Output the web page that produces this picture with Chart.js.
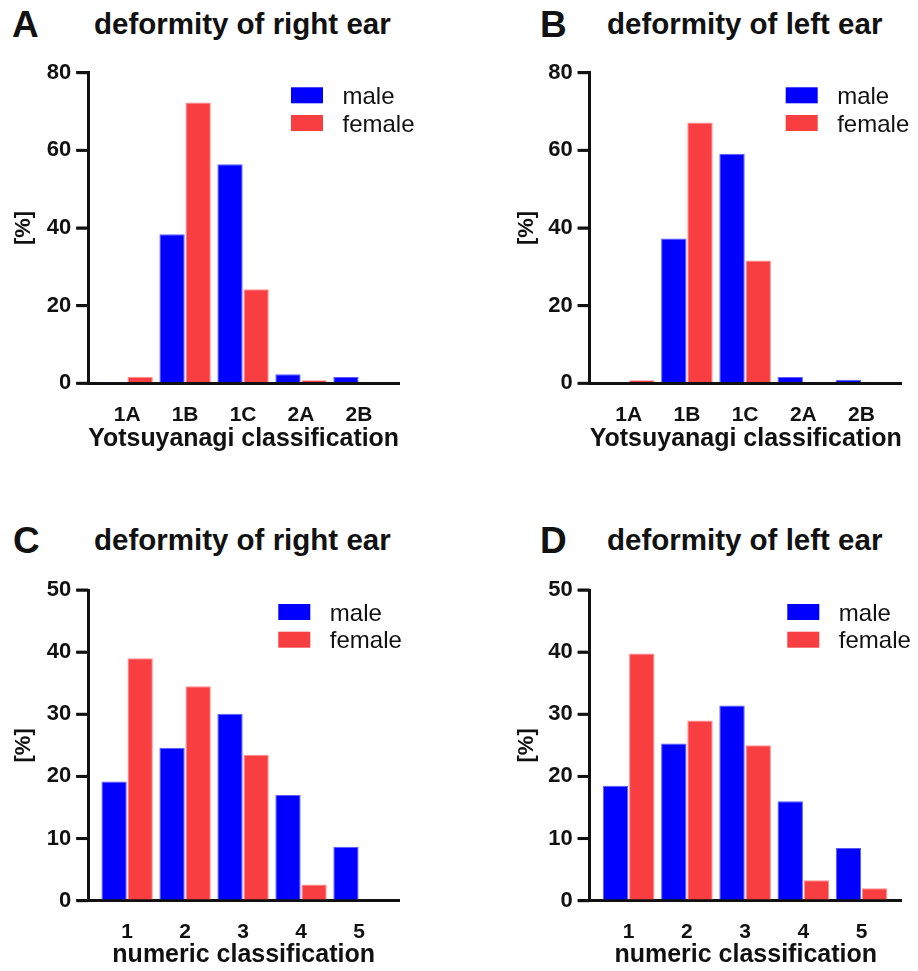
<!DOCTYPE html>
<html>
<head>
<meta charset="utf-8">
<script src="https://cdn.jsdelivr.net/npm/chart.js@4.4.1/dist/chart.umd.min.js"></script>
<style>
body{margin:0;background:#fff;width:918px;height:971px;position:relative;overflow:hidden;font-family:"Liberation Sans",Arial,sans-serif}
canvas{position:absolute}
.lbl{position:absolute;font-weight:bold;line-height:1;color:#111;white-space:nowrap}
.letter{font-size:37px}
.ttl{font-size:29.5px}
</style>
</head>
<body>
<div class="lbl letter" style="left:12px;top:5.5px">A</div>
<div class="lbl ttl" style="left:94px;top:8.5px">deformity of right ear</div>
<div class="lbl letter" style="left:540px;top:5.5px">B</div>
<div class="lbl ttl" style="left:607px;top:8.5px">deformity of left ear</div>
<div class="lbl letter" style="left:13px;top:521.5px">C</div>
<div class="lbl ttl" style="left:94px;top:525px">deformity of right ear</div>
<div class="lbl letter" style="left:540px;top:521.5px">D</div>
<div class="lbl ttl" style="left:607px;top:525px">deformity of left ear</div>

<canvas id="chartA" width="459" height="430" style="left:0;top:50px"></canvas>
<canvas id="chartB" width="459" height="430" style="left:459px;top:50px"></canvas>
<canvas id="chartC" width="459" height="421" style="left:0;top:550px"></canvas>
<canvas id="chartD" width="459" height="421" style="left:459px;top:550px"></canvas>

<script>
// categories
const yotsuyanagiCats = ['1A', '1B', '1C', '2A', '2B'];
const numericCats = ['1', '2', '3', '4', '5'];

// A: right ear, Yotsuyanagi
const rightYotsuMale = [0.3, 38.4, 56.4, 2.3, 1.6];
const rightYotsuFemale = [1.7, 72.3, 24.2, 0.8, 0];
// B: left ear, Yotsuyanagi
const leftYotsuMale = [0, 37.3, 59.1, 1.6, 0.9];
const leftYotsuFemale = [0.8, 67.2, 31.6, 0, 0];
// C: right ear, numeric
const rightNumMale = [19.2, 24.6, 30.1, 17.0, 8.7];
const rightNumFemale = [39.0, 34.5, 23.5, 2.6, 0];
// D: left ear, numeric
const leftNumMale = [18.5, 25.3, 31.4, 16.0, 8.5];
const leftNumFemale = [39.8, 29.0, 25.0, 3.3, 2.0];

// y ticks
const yTicksTop = [0, 20, 40, 60, 80];
const yTicksBottom = [0, 10, 20, 30, 40, 50];

const FONT = '"Liberation Sans", Arial, sans-serif';
const INK = '#111';

// legend drawn inside the plot, top right
const boxLegend = {
  id: 'boxLegend',
  afterDraw(chart, args, opts) {
    const {ctx, chartArea} = chart;
    const x0 = chartArea.right - opts.dx;
    let y = chartArea.top + opts.dy;
    ctx.save();
    ctx.font = '24px ' + FONT;
    ctx.textBaseline = 'alphabetic';
    chart.data.datasets.forEach(ds => {
      ctx.fillStyle = ds.backgroundColor;
      ctx.fillRect(x0, y, 32, 16);
      ctx.fillStyle = INK;
      ctx.fillText(ds.label, x0 + 51.5, y + 16.7);
      y += 27.7;
    });
    ctx.restore();
  }
};

// outward tick marks on the y axis (the one at 0 extends the x axis)
const yTickMarks = {
  id: 'yTickMarks',
  afterDraw(chart) {
    const {ctx, chartArea} = chart;
    const y = chart.scales.y;
    ctx.save();
    ctx.strokeStyle = INK;
    ctx.lineWidth = 3;
    y.ticks.forEach(t => {
      const py = y.getPixelForValue(t.value);
      ctx.beginPath();
      ctx.moveTo(chartArea.left - 12, py);
      ctx.lineTo(chartArea.left, py);
      ctx.stroke();
    });
    ctx.restore();
  }
};

function makeChart(id, cats, male, female, yTicks, xTitle, L) {
  const ctx = document.getElementById(id).getContext('2d');
  return new Chart(ctx, {
    type: 'bar',
    data: {
      datasets: [{
        label: 'male',
        data: cats.map((c, i) => ({x: i + 1, y: male[i]})),
        backgroundColor: '#0000FF',
        borderColor: '#5a5aff',
        borderWidth: 1,
      }, {
        label: 'female',
        data: cats.map((c, i) => ({x: i + 1, y: female[i]})),
        backgroundColor: '#F93E42',
        borderColor: '#ff8c8c',
        borderWidth: 1,
      }],
    },
    options: {
      responsive: false,
      animation: false,
      categoryPercentage: 0.9,
      barPercentage: 0.97,
      layout: { padding: { left: 0, top: L.top, right: L.right, bottom: 0 } },
      plugins: {
        legend: { display: false },
        tooltip: { enabled: false },
        boxLegend: { dx: L.legDx, dy: L.legDy },
      },
      scales: {
        x: {
          type: 'linear',
          min: 0.33,
          max: 5.69,
          offset: false,
          afterFit: s => { s.height = L.xHeight; },
          afterBuildTicks: s => { s.ticks = cats.map((c, i) => ({value: i + 1})); },
          grid: { display: false, drawTicks: false },
          border: { display: true, color: INK, width: 3 },
          ticks: {
            padding: 19,
            color: INK,
            font: { family: FONT, size: 21, weight: 'bold' },
            callback: v => cats[v - 1],
          },
          title: {
            display: true,
            text: xTitle,
            color: INK,
            font: { family: FONT, size: 25, weight: 'bold' },
            padding: { top: 0, bottom: L.xTitlePad },
          },
        },
        y: {
          min: 0,
          max: yTicks[yTicks.length - 1],
          afterFit: s => { s.width = L.yWidth; },
          afterBuildTicks: s => { s.ticks = yTicks.map(v => ({value: v})); },
          grid: { drawOnChartArea: false, drawTicks: true, tickLength: 12, color: INK, lineWidth: 2.5, tickColor: INK, tickWidth: 2.5 },
          border: { display: true, color: INK, width: 3 },
          ticks: {
            padding: 5,
            color: INK,
            font: { family: FONT, size: 22, weight: 'bold' },
          },
          title: {
            display: true,
            text: '[%]',
            color: INK,
            font: { family: FONT, size: 22, weight: 'bold' },
            padding: { top: L.yTitlePad, bottom: 0 },
          },
        },
      },
    },
    plugins: [boxLegend, yTickMarks],
  });
}

makeChart('chartA', yotsuyanagiCats, rightYotsuMale, rightYotsuFemale, yTicksTop, 'Yotsuyanagi classification',
  { top: 22.7, right: 60, yWidth: 88.3, xHeight: 96.7, xTitlePad: 25.5, yTitlePad: 11, legDx: 108, legDy: 14.6 });
makeChart('chartB', yotsuyanagiCats, leftYotsuMale, leftYotsuFemale, yTicksTop, 'Yotsuyanagi classification',
  { top: 22.7, right: 16.3, yWidth: 130.7, xHeight: 96.7, xTitlePad: 25.5, yTitlePad: 54.7, legDx: 116, legDy: 14.6 });
makeChart('chartC', numericCats, rightNumMale, rightNumFemale, yTicksBottom, 'numeric classification',
  { top: 40, right: 60, yWidth: 88.3, xHeight: 70.3, xTitlePad: 1, yTitlePad: 11, legDx: 120.7, legDy: 14 });
makeChart('chartD', numericCats, leftNumMale, leftNumFemale, yTicksBottom, 'numeric classification',
  { top: 40, right: 16.3, yWidth: 130.7, xHeight: 70.3, xTitlePad: 1, yTitlePad: 54.7, legDx: 114.4, legDy: 14 });
</script>
</body>
</html>
